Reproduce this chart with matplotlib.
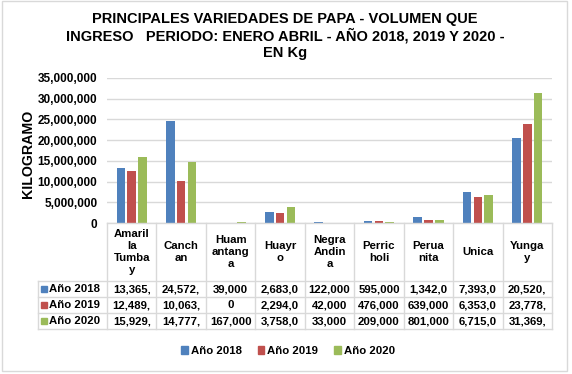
import matplotlib
matplotlib.use("Agg")
import matplotlib.pyplot as plt
from matplotlib.patches import Patch, Rectangle

plt.rcParams['font.family'] = ['Liberation Sans', 'DejaVu Sans']

varieties = ["Amarilla Tumbay", "Canchan", "Huamantanga", "Huayro", "Negra Andina",
             "Perricholi", "Peruanita", "Unica", "Yungay"]
header_labels = ["Amaril\nla\nTumba\ny", "Canch\nan", "Huam\nantang\na", "Huayr\no",
                 "Negra\nAndin\na", "Perric\nholi", "Perua\nnita", "Unica", "Yunga\ny"]
years = ["Año 2018", "Año 2019", "Año 2020"]
kg_2018 = [13365000, 24572000, 39000, 2683000, 122000, 595000, 1342000, 7393000, 20520000]
kg_2019 = [12489000, 10063000, 0, 2294000, 42000, 476000, 639000, 6353000, 23778000]
kg_2020 = [15929000, 14777000, 167000, 3758000, 33000, 209000, 801000, 6715000, 31369000]
yticks = [0, 5000000, 10000000, 15000000, 20000000, 25000000, 30000000, 35000000]
colors = ["#4F81BD", "#C0504D", "#9BBB59"]
series = [kg_2018, kg_2019, kg_2020]

W, H = 572, 374
grid_c = "#D9D9D9"

def fx(px):
    return px / W

def fy(py):
    return 1 - py / H

fig = plt.figure(figsize=(W / 100, H / 100), dpi=100)

# chart border
fig.patches.append(Rectangle((fx(2), fy(371)), 565 / W, 370 / H, fill=False,
                             edgecolor=grid_c, lw=1, transform=fig.transFigure))

fig.text(fx(285), fy(36),
         "PRINCIPALES VARIEDADES DE PAPA - VOLUMEN QUE\n"
         "INGRESO   PERIODO: ENERO ABRIL - AÑO 2018, 2019 Y 2020 -\nEN Kg",
         ha="center", va="center", fontsize=10.5, fontweight="bold", linespacing=1.15)

# plot area
left, right, top, bottom = 107, 552, 78, 223
ax = fig.add_axes([fx(left), fy(bottom), (right - left) / W, (bottom - top) / H])
x = list(range(len(varieties)))
offsets = [-0.22, 0.0, 0.22]
for vals, off, c, lab in zip(series, offsets, colors, years):
    ax.bar([i + off for i in x], vals, width=0.175, color=c, label=lab, zorder=3)
ax.set_xlim(-0.5, len(varieties) - 0.5)
ax.set_ylim(0, 35000000)
ax.set_yticks(yticks)
ax.set_yticklabels([f"{v:,}" for v in yticks], fontsize=8.5, fontweight="bold")
ax.tick_params(axis="y", length=0, pad=7)
ax.set_xticks([])
for s in ax.spines.values():
    s.set_visible(False)
ax.yaxis.grid(True, color=grid_c, lw=1)
ax.set_axisbelow(True)

fig.text(fx(28), fy(154), "KILOGRAMO", rotation=90, ha="center", va="center",
         fontsize=10.2, fontweight="bold")

# data table below the plot
col_w = (right - left) / len(varieties)
tl = 38
xl = -0.5 - (left - tl) / col_w
tab = fig.add_axes([fx(tl), fy(329), (right - tl) / W, (329 - bottom) / H])
tab.set_xlim(xl, len(varieties) - 0.5)
tab.set_ylim(329 - bottom, 0)
tab.axis("off")
hdr = 58
rows = [hdr, hdr + 16, hdr + 32, hdr + 48]
lw = 1
tab.plot([-0.5, len(varieties) - 0.5], [0, 0], color=grid_c, lw=lw, clip_on=False)
for r in rows:
    tab.plot([xl, len(varieties) - 0.5], [r, r], color=grid_c, lw=lw, clip_on=False)
for k in range(len(varieties) + 1):
    tab.plot([k - 0.5, k - 0.5], [0, rows[-1]], color=grid_c, lw=lw, clip_on=False)
tab.plot([xl, xl], [hdr, rows[-1]], color=grid_c, lw=lw, clip_on=False)

for i, lab in enumerate(header_labels):
    tab.text(i, hdr / 2, lab, ha="center", va="center", fontsize=8.2,
             fontweight="bold", linespacing=1.25)
for j, (vals, c, yr) in enumerate(zip(series, colors, years)):
    yc = rows[j] + 8
    for i, v in enumerate(vals):
        tab.text(i, yc, f"{v:,}"[:7], ha="center", va="center", fontsize=8.2,
                 fontweight="bold")
    tab.plot([xl + 6 / col_w], [yc], marker="s", ms=4.5, color=c, lw=0)
    tab.text(xl + 11 / col_w, yc, yr, ha="left", va="center", fontsize=8.2,
             fontweight="bold")

handles = [Patch(color=c, label=yr) for c, yr in zip(colors, years)]
fig.legend(handles=handles, loc="center", bbox_to_anchor=(fx(288), fy(351)), ncol=3,
           frameon=False, prop={"size": 8.2, "weight": "bold"}, handlelength=0.6,
           handleheight=0.6, handletextpad=0.25, columnspacing=1.4)

fig.savefig("out.png", dpi=100)
